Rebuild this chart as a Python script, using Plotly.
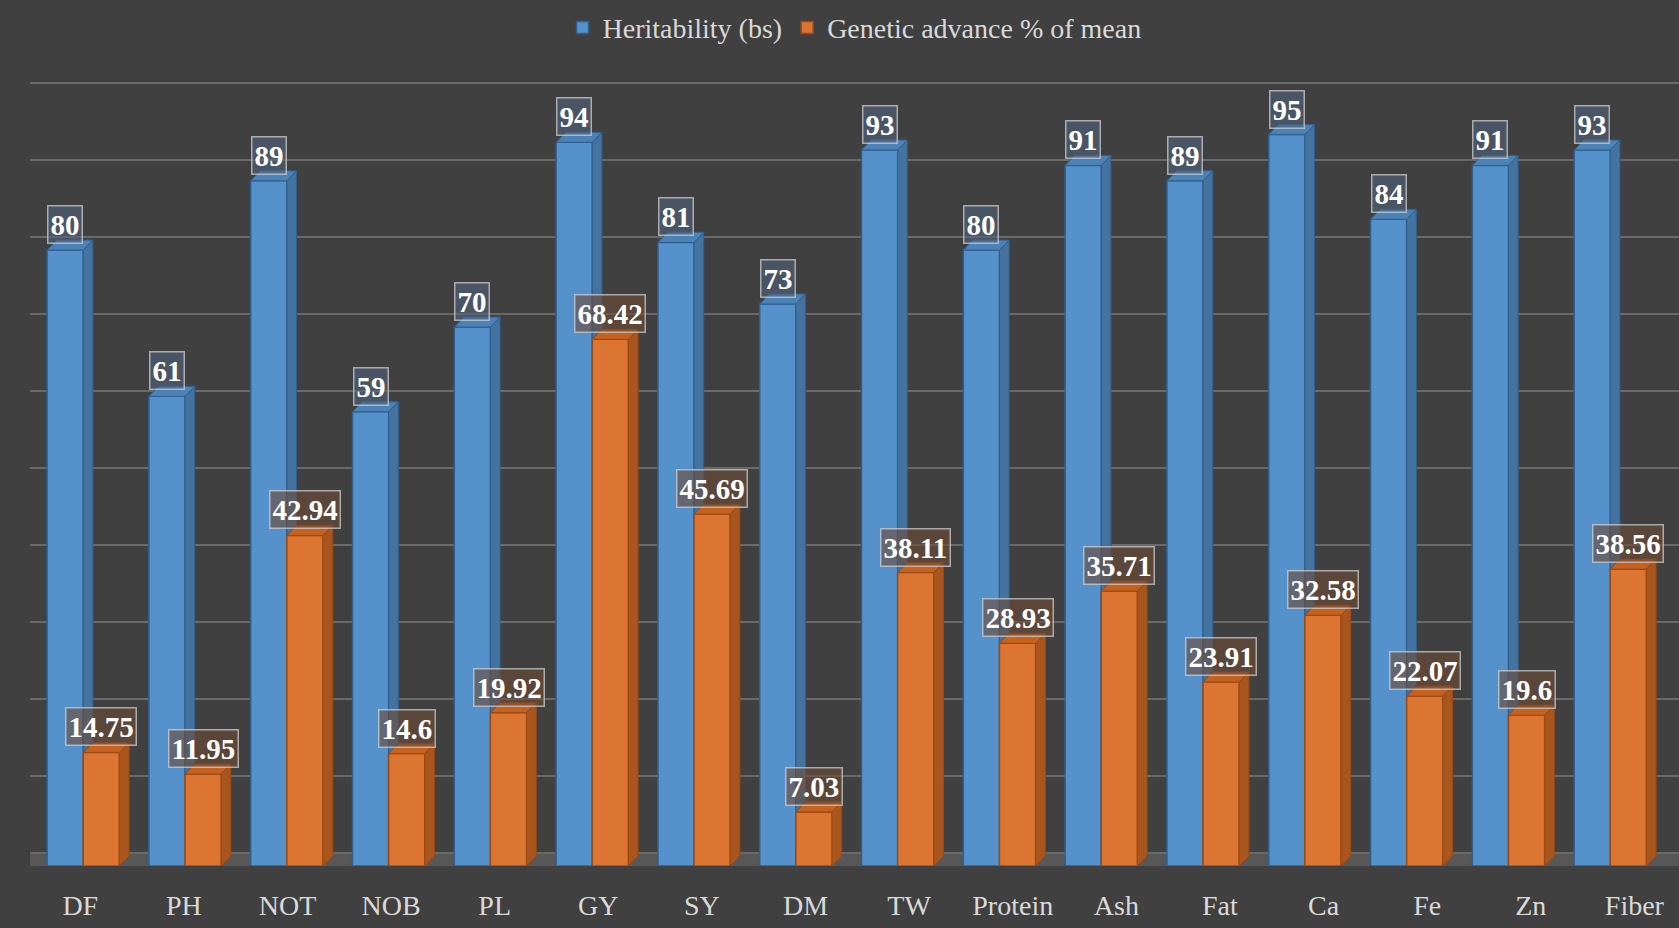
import plotly.graph_objects as go

categories = ["DF", "PH", "NOT", "NOB", "PL", "GY", "SY", "DM", "TW", "Protein",
              "Ash", "Fat", "Ca", "Fe", "Zn", "Fiber"]
heritability = [80, 61, 89, 59, 70, 94, 81, 73, 93, 80, 91, 89, 95, 84, 91, 93]
genetic_advance = [14.75, 11.95, 42.94, 14.6, 19.92, 68.42, 45.69, 7.03, 38.11, 28.93,
                   35.71, 23.91, 32.58, 22.07, 19.6, 38.56]
ga_labels = ["14.75", "11.95", "42.94", "14.6", "19.92", "68.42", "45.69", "7.03", "38.11",
             "28.93", "35.71", "23.91", "32.58", "22.07", "19.6", "38.56"]

BG = "#404040"
BLUE_FRONT, BLUE_SIDE, BLUE_TOP, BLUE_EDGE = "#5592CB", "#44739F", "#4B82B8", "#2F5F8F"
OR_FRONT, OR_SIDE, OR_TOP, OR_EDGE = "#DC7532", "#A9561E", "#C6621F", "#9A4A14"

W = 0.355     # bar front width (x units)
DX = 0.095    # depth shift in x
DY = 1.3      # depth shift in y
GRID_DY = 1.7
B_OFF = -0.326
O_OFF = B_OFF + W
LABEL_SPREAD = 1.0177  # perspective spread of floor labels

xs = list(range(len(categories)))

fig = go.Figure()

fig.add_trace(go.Bar(x=xs, y=heritability, width=W, offset=B_OFF, name="Heritability (bs)",
                     marker=dict(color=BLUE_FRONT, line=dict(color=BLUE_EDGE, width=1.5)),
                     hoverinfo="skip"))
fig.add_trace(go.Bar(x=xs, y=genetic_advance, width=W, offset=O_OFF,
                     name="Genetic advance % of mean",
                     marker=dict(color=OR_FRONT, line=dict(color=OR_EDGE, width=1.5)),
                     hoverinfo="skip"))


def faces(vals, off, low=None):
    sx, sy, tx, ty = [], [], [], []
    for i, v in enumerate(vals):
        xl = i + off
        xr = xl + W
        b = 0 if low is None else low[i]
        sx += [xr, xr + DX, xr + DX, xr, xr, None]
        sy += [b, b + DY, v + DY, v, b, None]
        tx += [xl, xl + DX, xr + DX, xr, xl, None]
        ty += [v, v + DY, v + DY, v, v, None]
    return sx, sy, tx, ty


bsx, bsy, btx, bty = faces(heritability, B_OFF, genetic_advance)
osx, osy, otx, oty = faces(genetic_advance, O_OFF)
for px, py, fc, lc in [(bsx, bsy, BLUE_SIDE, BLUE_EDGE), (btx, bty, BLUE_TOP, BLUE_EDGE),
                       (osx, osy, OR_SIDE, OR_EDGE), (otx, oty, OR_TOP, OR_EDGE)]:
    fig.add_trace(go.Scatter(x=px, y=py, mode="lines", fill="toself", fillcolor=fc,
                             line=dict(color=lc, width=1), showlegend=False,
                             hoverinfo="skip"))

LABEL_FONT = dict(family="Liberation Serif", size=29, color="white", weight="bold")
ann = []
for i in xs:
    ann.append(dict(x=i + B_OFF + W / 2, y=heritability[i] + DY * 0.5, text=str(heritability[i]),
                    showarrow=False, yanchor="bottom", xanchor="center", yshift=1,
                    font=LABEL_FONT,
                    bgcolor="rgba(80,100,125,0.6)", bordercolor="rgba(205,205,205,0.75)",
                    borderwidth=1.5, borderpad=2))
    ann.append(dict(x=i + O_OFF + W / 2, y=genetic_advance[i] + DY * 0.5, text=ga_labels[i],
                    showarrow=False, yanchor="bottom", xanchor="center", yshift=1,
                    font=LABEL_FONT,
                    bgcolor="rgba(110,75,55,0.6)", bordercolor="rgba(205,205,205,0.75)",
                    borderwidth=1.5, borderpad=2))

fig.update_layout(
    width=1679, height=928,
    paper_bgcolor=BG, plot_bgcolor=BG,
    margin=dict(l=30, r=0, t=73, b=62),
    barmode="overlay",
    annotations=ann,
    shapes=[dict(type="rect", xref="x", yref="y", x0=-0.6, x1=15.8, y0=0, y1=GRID_DY,
                 fillcolor="#575757", line=dict(width=0), layer="below")],
    legend=dict(orientation="h", x=0.50, xanchor="center", y=1.057, yanchor="middle",
                font=dict(family="Liberation Serif", size=28, color="#d9d9d9"),
                bgcolor="rgba(0,0,0,0)", itemwidth=30, traceorder="normal"),
    xaxis=dict(range=[-0.494, 15.704], tickmode="array",
               tickvals=[i * LABEL_SPREAD for i in xs], ticktext=categories,
               showgrid=False, zeroline=False, showline=False, ticks="",
               ticklabelstandoff=20,
               tickfont=dict(family="Liberation Serif", size=28, color="#d9d9d9")),
    yaxis=dict(range=[0, 103], tickmode="array", tickvals=[k * 10 + GRID_DY for k in range(11)],
               showticklabels=False, showgrid=True, gridcolor="#6a6a6a", gridwidth=2,
               zeroline=False, showline=False, ticks=""),
)

fig.write_html("out.html")
